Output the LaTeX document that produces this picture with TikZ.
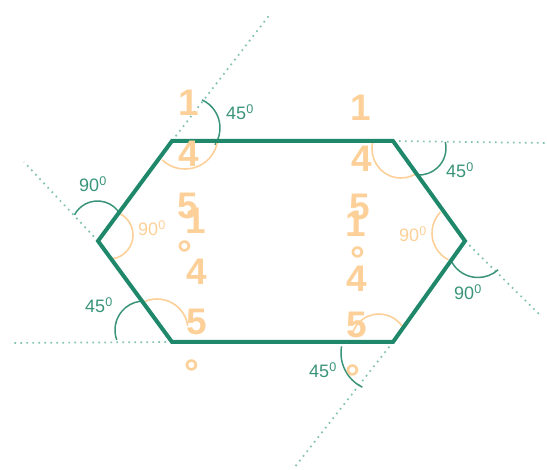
\documentclass[tikz,border=0pt]{standalone}
\usepackage{fontspec}
\setmainfont{Liberation Sans}
\definecolor{hexgreen}{RGB}{31,136,106}
\definecolor{dotgreen}{RGB}{130,195,175}
\definecolor{arcgreen}{RGB}{58,148,122}
\definecolor{peach}{RGB}{252,208,152}

\begin{document}
\begin{tikzpicture}[
  x=1pt,y=-1pt,
  edge/.style={draw=hexgreen,line width=4pt,line join=miter},
  extline/.style={draw=dotgreen,line width=1.7pt,dash pattern=on 1.7pt off 4.3pt},
  outarc/.style={draw=arcgreen,line width=1.5pt},
  inarc/.style={draw=peach,line width=1.6pt},
  outlabel/.style={text=arcgreen,font=\fontsize{18}{18}\selectfont,inner sep=0pt},
  inlabel/.style={text=peach,font=\fontsize{18}{18}\selectfont,inner sep=0pt},
  digit/.style={text=peach,font=\fontsize{37}{37}\selectfont\bfseries,inner sep=0pt},
  degsign/.style={digit,anchor=north}
]
\useasboundingbox (0,0) rectangle (547,470);

% corners of the hexagon
\coordinate (tl) at (172,141);
\coordinate (tr) at (393,141);
\coordinate (r)  at (465,241);
\coordinate (br) at (393,342);
\coordinate (bl) at (172,342);
\coordinate (l)  at (98,241);

% free ends of the extension lines
\coordinate (tlx) at (271,13);
\coordinate (trx) at (547,143);
\coordinate (rx)  at (540,315);
\coordinate (brx) at (294,468);
\coordinate (blx) at (10,343);
\coordinate (lx)  at (24,162);

\draw[extline] (tl) -- (tlx);
\draw[extline] (tr) -- (trx);
\draw[extline] (r) -- (rx);
\draw[extline] (br) -- (brx);
\draw[extline] (bl) -- (blx);
\draw[extline] (l) -- (lx);

% centres of the angle arcs
\coordinate (tlout) at (189,128);
\coordinate (tlin)  at (185,136);
\coordinate (trout) at (419,148);
\coordinate (trin)  at (401,149);
\coordinate (rout)  at (478,247.5);
\coordinate (rin)   at (462,233);
\coordinate (brout) at (379,353);
\coordinate (brin)  at (379,342);
\coordinate (blout) at (144,330);
\coordinate (blin)  at (157,330);
\coordinate (lout)  at (97.5,227);
\coordinate (lin)   at (109,235);

% exterior angles
\draw[outarc] ([shift={(-65:31)}]tlout) arc[start angle=-65,end angle=33,radius=31];
\draw[outarc] ([shift={(-13:27)}]trout) arc[start angle=-13,end angle=94,radius=27];
\draw[outarc] ([shift={(-209:30)}]rout) arc[start angle=-209,end angle=-312,radius=30];
\draw[outarc] ([shift={(-170:38)}]brout) arc[start angle=-170,end angle=-244,radius=38];
\draw[outarc] ([shift={(-200:29)}]blout) arc[start angle=-200,end angle=-98,radius=29];
\draw[outarc] ([shift={(-28:26)}]lout) arc[start angle=-28,end angle=-152,radius=26];

% interior angles
\draw[inarc] ([shift={(134:33)}]tlin) arc[start angle=134,end angle=11,radius=33];
\draw[inarc] ([shift={(-168:29)}]trin) arc[start angle=-168,end angle=-304,radius=29];
\draw[inarc] ([shift={(-136:30)}]rin) arc[start angle=-136,end angle=-243,radius=30];
\draw[inarc] ([shift={(-35:28)}]brin) arc[start angle=-35,end angle=-165,radius=28];
\draw[inarc] ([shift={(-113:31)}]blin) arc[start angle=-113,end angle=-8,radius=31];
\draw[inarc] ([shift={(-67:24)}]lin) arc[start angle=-67,end angle=80,radius=24];

% the hexagon
\draw[edge] (tl) -- (tr) -- (r) -- (br) -- (bl) -- (l) -- cycle;

% angle labels
\node[outlabel] (tlangle) at (240,112) {45\textsuperscript{0}};
\node[outlabel] (trangle) at (460,170) {45\textsuperscript{0}};
\node[outlabel] (rangle)  at (468,292) {90\textsuperscript{0}};
\node[outlabel] (brangle) at (323,370) {45\textsuperscript{0}};
\node[outlabel] (blangle) at (99,305)  {45\textsuperscript{0}};
\node[outlabel] (langle)  at (93,184)  {90\textsuperscript{0}};
\node[inlabel] (linner) at (152,228) {90\textsuperscript{0}};
\node[inlabel] (rinner) at (413,234) {90\textsuperscript{0}};

% left column of figures
\node[digit] (lone)   at (189,103) {1};
\node[digit] (lfour)  at (189,154) {4};
\node[digit] (lfive)  at (188,206) {5};
\node[digit] (lonex)  at (196,221) {1};
\node[degsign] (ldeg) at (185,241) {°};
\node[digit] (lfourx) at (197,272) {4};
\node[digit] (lfivex) at (197,322) {5};
\node[degsign] (ldegx) at (192,360) {°};

% right column of figures
\node[digit] (rone)   at (361,108) {1};
\node[digit] (rfour)  at (362,159) {4};
\node[digit] (rfive)  at (360,207) {5};
\node[digit] (ronex)  at (356,224) {1};
\node[degsign] (rdeg) at (358,247) {°};
\node[digit] (rfourx) at (357,279) {4};
\node[digit] (rfivex) at (357,325) {5};
\node[degsign] (rdegx) at (353,365) {°};
\end{tikzpicture}
\end{document}
